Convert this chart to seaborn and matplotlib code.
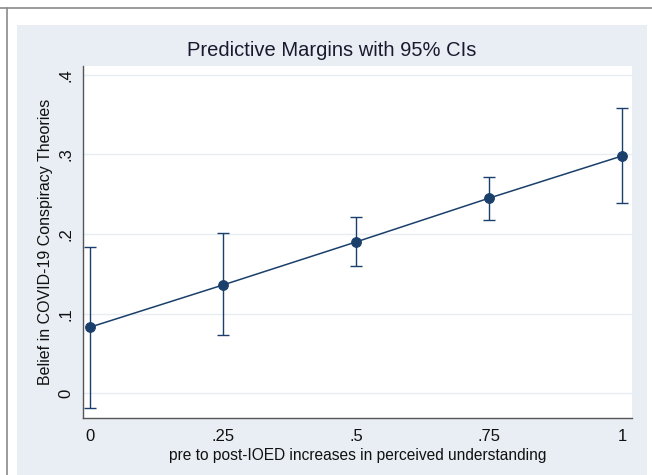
import numpy as np
import pandas as pd
import matplotlib.pyplot as plt
import seaborn as sns
from matplotlib.patches import Rectangle
from matplotlib.lines import Line2D

# values
x_vals = [0, 0.25, 0.5, 0.75, 1]
margin = [0.083, 0.136, 0.190, 0.245, 0.298]
ci_low = [-0.018, 0.073, 0.160, 0.218, 0.239]
ci_high = [0.184, 0.201, 0.221, 0.272, 0.358]

x_ticks = [0, 0.25, 0.5, 0.75, 1]
x_ticklabels = ['0', '.25', '.5', '.75', '1']
y_ticks = [0, 0.1, 0.2, 0.3, 0.4]
y_ticklabels = ['0', '.1', '.2', '.3', '.4']

df = pd.DataFrame({'x': x_vals, 'margin': margin, 'lo': ci_low, 'hi': ci_high})

sns.set_style('white')
plt.rcParams['font.family'] = ['Liberation Sans', 'DejaVu Sans']

navy = '#1a3f6b'
bg = '#e9eef4'

fig = plt.figure(figsize=(6.52, 4.75), dpi=100, facecolor='white')

# stata-like graph region and outer frame
fig.patches.append(Rectangle((17/652, 0), 630/652, 450/475, transform=fig.transFigure,
                             facecolor=bg, edgecolor='none', zorder=-10))
fig.lines.append(Line2D([0, 1], [1 - 8/475, 1 - 8/475], transform=fig.transFigure,
                        color='#8a8a8a', lw=1.2))
fig.lines.append(Line2D([7/652, 7/652], [0, 1 - 8/475], transform=fig.transFigure,
                        color='#8a8a8a', lw=1.2))

ax = fig.add_axes([83/652, 1 - 418/475, (632 - 83)/652, (418 - 66)/475])
ax.set_facecolor('white')

# confidence intervals as capped bars
ax.errorbar(df['x'], df['margin'],
            yerr=[df['margin'] - df['lo'], df['hi'] - df['margin']],
            fmt='none', ecolor=navy, elinewidth=1.0, capsize=4, capthick=1.0, zorder=2)
sns.lineplot(data=df, x='x', y='margin', ax=ax, color=navy, lw=1.1,
             marker='o', markersize=7, markeredgecolor=navy, zorder=3)

ax.set_xlim(-0.013, 1.019)
ax.set_ylim(-0.031, 0.411)
ax.set_xticks(x_ticks)
ax.set_xticklabels(x_ticklabels, fontsize=12)
ax.set_yticks(y_ticks)
ax.set_yticklabels(y_ticklabels, fontsize=12, rotation=90, va='center')
ax.yaxis.grid(True, color='#e6ecf0', lw=1)
ax.xaxis.grid(False)

for s in ['top', 'right']:
    ax.spines[s].set_visible(False)
for s in ['left', 'bottom']:
    ax.spines[s].set_color('#555555')
    ax.spines[s].set_linewidth(1.0)
ax.tick_params(axis='both', direction='out', length=5, width=1, color='#555555',
               labelcolor='#111111', pad=3)
ax.tick_params(axis='y', pad=2)

ax.set_xlabel('pre to post-IOED increases in perceived understanding', fontsize=11.2,
              color='#111111', labelpad=3)
ax.set_ylabel('Belief in COVID-19 Conspiracy Theories', fontsize=11.5,
              color='#111111', labelpad=4)

fig.text(332/652, 1 - 50/475, 'Predictive Margins with 95% CIs', fontsize=14.5,
         ha='center', va='center', color='#1a1a2e')

fig.savefig('out.png', dpi=100, facecolor='white')
